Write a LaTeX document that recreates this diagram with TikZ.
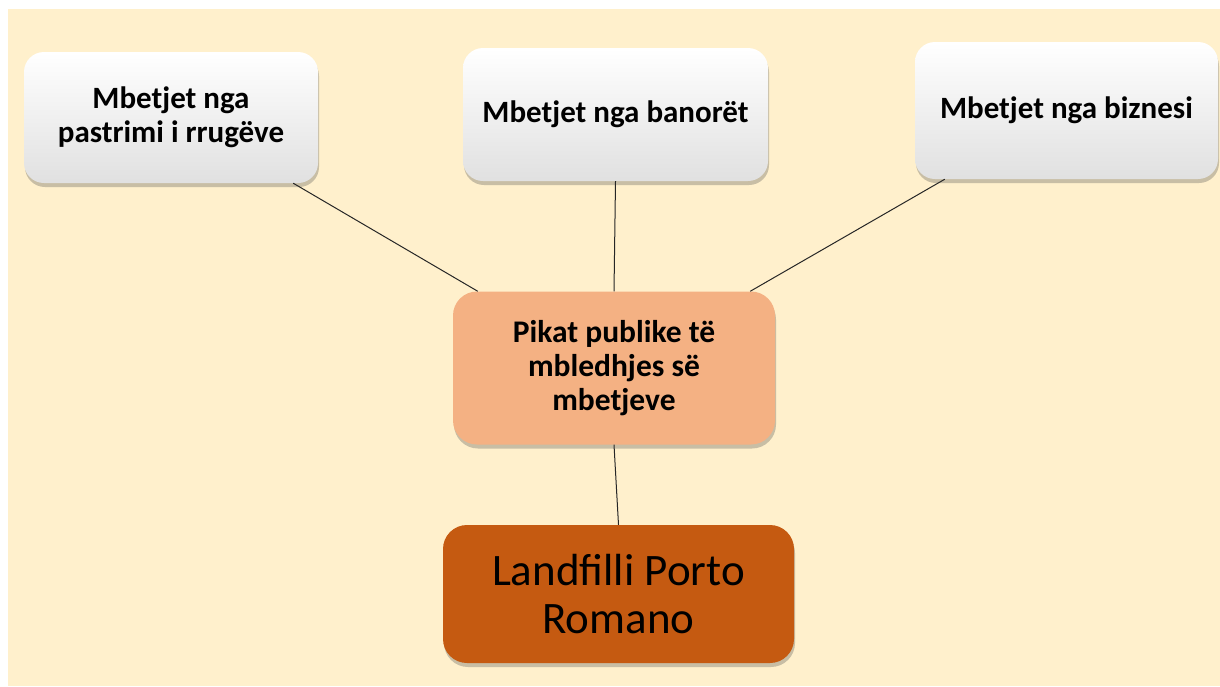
\documentclass[tikz,border=0pt]{standalone}
\usepackage{fontspec}
\setmainfont{Carlito}
\usetikzlibrary{shadows}
\definecolor{bgbeige}{HTML}{FFF0CC}
\definecolor{midorange}{HTML}{F4B183}
\definecolor{darkorange}{HTML}{C55A11}
\tikzset{
  srcbox/.style={rounded corners=20pt, top color=white, middle color=white, bottom color=black!12,
    draw=none, align=center, font=\fontsize{31}{34}\selectfont\bfseries,
    drop shadow={shadow xshift=1pt, shadow yshift=-4pt, opacity=0.3, fill=black!70}},
  midbox/.style={rounded corners=24pt, fill=midorange, draw=none, align=center,
    font=\fontsize{31.5}{34}\selectfont\bfseries,
    drop shadow={shadow xshift=1pt, shadow yshift=-4pt, opacity=0.3, fill=black!70}},
  endbox/.style={rounded corners=24pt, fill=darkorange, draw=none, align=center,
    font=\fontsize{45}{48}\selectfont,
    drop shadow={shadow xshift=1pt, shadow yshift=-4pt, opacity=0.3, fill=black!70}},
  link/.style={draw=black!85, line width=1pt}
}
\begin{document}
\begin{tikzpicture}[x=1pt,y=-1pt]
\useasboundingbox (0,0) rectangle (1220,686);
\fill[white] (0,0) rectangle (1220,686);
\fill[bgbeige] (8,9) rectangle (1220,686);
\node[srcbox, minimum width=294pt, minimum height=131pt] (b1) at (171,117.5) {Mbetjet nga\\pastrimi i rrugëve};
\node[srcbox, minimum width=305pt, minimum height=133pt] (b2) at (615.5,114.5) {Mbetjet nga banorët};
\node[srcbox, minimum width=303pt, minimum height=137pt] (b3) at (1066.5,110.5) {Mbetjet nga biznesi};
\node[midbox, minimum width=322pt, minimum height=153pt] (c) at (614,368) {Pikat publike të\\mbledhjes së\\mbetjeve};
\node[endbox, minimum width=351pt, minimum height=138pt] (l) at (618.5,594) {Landfilli Porto\\Romano};
\draw[link] ([xshift=-25pt]b1.south east) -- ([xshift=25pt]c.north west);
\draw[link] (b2.south) -- (c.north);
\draw[link] ([xshift=30pt]b3.south west) -- ([xshift=-25pt]c.north east);
\draw[link] (c.south) -- (l.north);
\end{tikzpicture}
\end{document}
